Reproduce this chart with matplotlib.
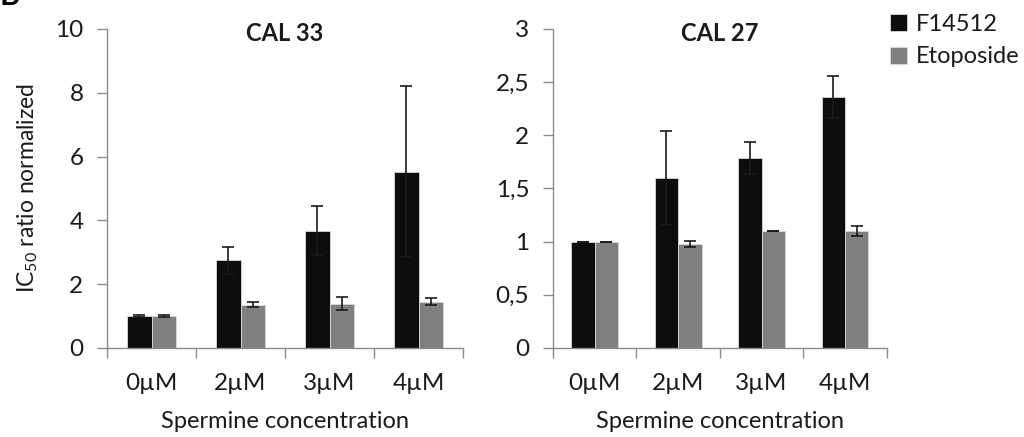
import matplotlib
matplotlib.use("Agg")
import matplotlib.pyplot as plt
import numpy as np
from matplotlib.ticker import FuncFormatter

plt.rcParams['font.family'] = ['Lato', 'DejaVu Sans']
plt.rcParams['mathtext.fontset'] = 'custom'
plt.rcParams['mathtext.rm'] = 'Lato'

categories = ['0µM', '2µM', '3µM', '4µM']
series = ['F14512', 'Etoposide']

# CAL 33
cal33_f14512 = [1.0, 2.75, 3.68, 5.52]
cal33_f14512_err = [0.02, 0.42, 0.78, 2.68]
cal33_etoposide = [1.0, 1.35, 1.39, 1.45]
cal33_etoposide_err = [0.02, 0.08, 0.21, 0.11]

# CAL 27
cal27_f14512 = [1.0, 1.60, 1.79, 2.36]
cal27_f14512_err = [0.0, 0.44, 0.15, 0.20]
cal27_etoposide = [1.0, 0.98, 1.10, 1.10]
cal27_etoposide_err = [0.0, 0.03, 0.0, 0.05]

black = '#0d0d0d'
grey = '#808080'
spine_col = '#8c8c8c'
txt = '#1a1a1a'
fs = 17.5

fig = plt.figure(figsize=(10.24, 4.37), dpi=100)
ax1 = fig.add_axes([0.1045, 0.2037, 0.3477, 0.730])
ax2 = fig.add_axes([0.540, 0.2037, 0.326, 0.730])


def draw_panel(ax, title, f_vals, f_err, e_vals, e_err, ymax, yticks):
    x = np.arange(len(categories))
    w = 0.28
    ax.bar(x - w / 2, f_vals, w, color=black, edgecolor='#d9d9d9', linewidth=0.6,
           label=series[0], zorder=2)
    ax.bar(x + w / 2, e_vals, w, color=grey, edgecolor='#d9d9d9', linewidth=0.6,
           label=series[1], zorder=2)
    ax.errorbar(x - w / 2, f_vals, yerr=f_err, fmt='none', ecolor=txt,
                elinewidth=1.2, capsize=4, capthick=1.2, zorder=3)
    ax.errorbar(x + w / 2, e_vals, yerr=e_err, fmt='none', ecolor=txt,
                elinewidth=1.2, capsize=4, capthick=1.2, zorder=3)

    ax.set_xlim(-0.5, len(categories) - 0.5)
    ax.set_ylim(0, ymax)
    ax.set_yticks(yticks)
    ax.yaxis.set_major_formatter(FuncFormatter(lambda v, p: ('%g' % v).replace('.', ',')))
    ax.set_xticks(np.arange(len(categories) + 1) - 0.5)
    ax.set_xticklabels([])
    ax.set_xticks(x, minor=True)
    ax.set_xticklabels(categories, minor=True)
    ax.tick_params(axis='x', which='major', length=7, color=spine_col, width=1)
    ax.tick_params(axis='x', which='minor', length=0, pad=18, labelsize=fs, labelcolor=txt)
    ax.tick_params(axis='y', length=7, color=spine_col, width=1, pad=10,
                   labelsize=fs, labelcolor=txt)

    for s in ['top', 'right']:
        ax.spines[s].set_visible(False)
    for s in ['left', 'bottom']:
        ax.spines[s].set_color(spine_col)
        ax.spines[s].set_linewidth(1)

    ax.text(0.5, 0.985, title, transform=ax.transAxes, ha='center', va='center',
            fontsize=17, fontweight='bold', color=txt)
    ax.set_xlabel('Spermine concentration', fontsize=17, color=txt, labelpad=12)


draw_panel(ax1, 'CAL 33', cal33_f14512, cal33_f14512_err, cal33_etoposide,
           cal33_etoposide_err, 10, [0, 2, 4, 6, 8, 10])
draw_panel(ax2, 'CAL 27', cal27_f14512, cal27_f14512_err, cal27_etoposide,
           cal27_etoposide_err, 3, [0, 0.5, 1, 1.5, 2, 2.5, 3])

ax1.set_ylabel(r'IC$_\mathregular{50}$ ratio normalized', fontsize=16.5, color=txt, labelpad=11)

handles, labels = ax2.get_legend_handles_labels()
fig.legend(handles, labels, loc='upper left', bbox_to_anchor=(0.862, 0.985),
           frameon=False, fontsize=17, handlelength=0.75, handleheight=0.75,
           handletextpad=0.35, labelspacing=0.5, labelcolor=txt,
           borderaxespad=0, borderpad=0.3)

fig.text(0.0, 1.0 - 5 / 437, 'B', fontsize=22, fontweight='bold', va='baseline', ha='left')

fig.savefig('out.png', dpi=100)
